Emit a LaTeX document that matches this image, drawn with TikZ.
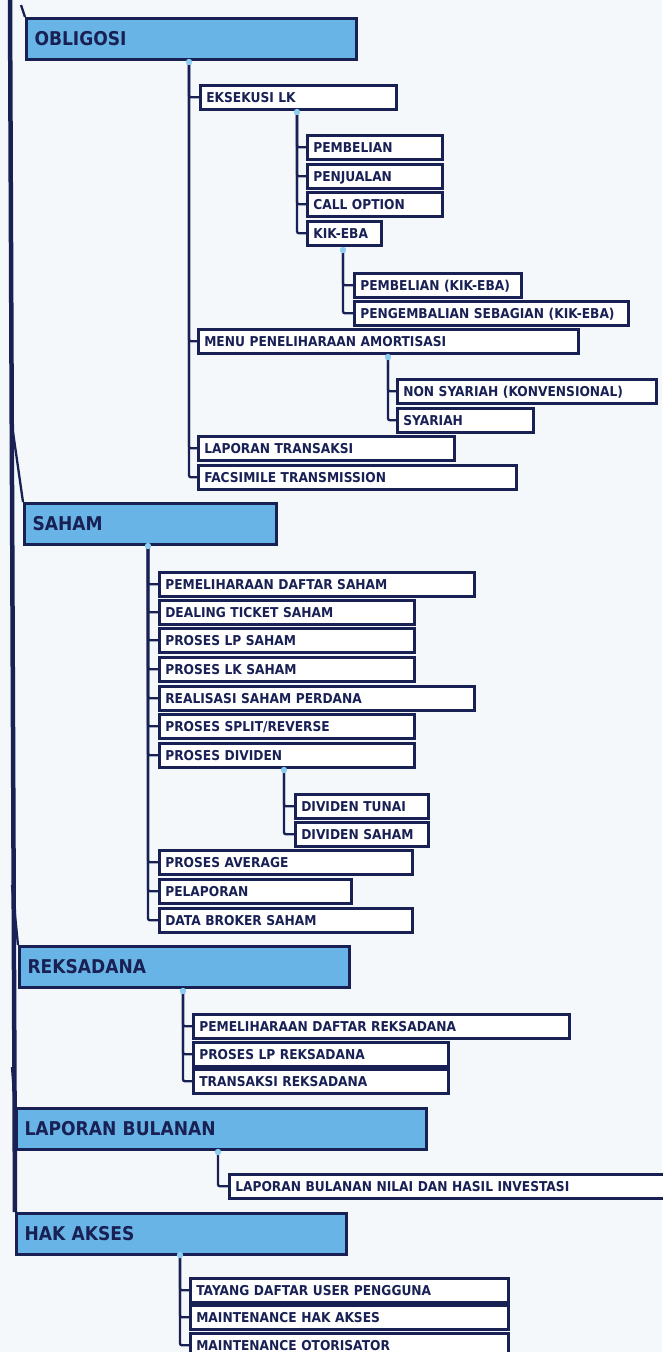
\documentclass[tikz,border=0pt]{standalone}
\usepackage{fontspec}
\setmainfont{DejaVu Sans}[FakeStretch=0.9]
\usepackage{tikz}
\usetikzlibrary{calc,positioning}
\definecolor{navy}{RGB}{24,32,84}
\definecolor{hdrblue}{RGB}{104,180,230}
\definecolor{paper}{RGB}{245,248,250}
\definecolor{dotblue}{RGB}{140,205,240}
\tikzset{%
	header/.style = {draw=navy, line width=3pt, fill=hdrblue, anchor=north west, inner xsep=8pt, inner ysep=0pt, minimum height=41pt, text height=13.8pt, text depth=0pt, font=\fontsize{19}{22}\selectfont\bfseries, text=navy, align=left, text width=#1-16pt},
	menu/.style   = {draw=navy, line width=2.6pt, fill=white, anchor=north west, inner xsep=6pt, inner ysep=0pt, minimum height=24pt, text height=9.9pt, text depth=0pt, font=\fontsize{13.6}{15}\selectfont\bfseries, text=navy, align=left, text width=#1-12pt},
	link/.style   = {navy, line width=2.3pt, rounded corners=2pt},
	trunk/.style  = {navy, line width=4.5pt},
}
\newcommand{\knob}[1]{\fill[dotblue] (#1) circle (3.2pt);}

\begin{document}
\begin{tikzpicture}[x=1pt,y=-1pt]
	\useasboundingbox[fill=paper] (0,0) rectangle (662,1352);
	
	% main groups
	\node[header=330pt] (obligosi) at (25,17) {OBLIGOSI};
	\node[header=252pt] (saham) at (23,502) {SAHAM};
	\node[header=330pt] (reksadana) at (18,945) {REKSADANA};
	\node[header=410pt] (bulanan) at (15,1107) {LAPORAN BULANAN};
	\node[header=330pt] (hakakses) at (15,1212) {HAK AKSES};
	
	\coordinate (root) at (10,0);
	\draw[trunk] (root) -- (hakakses.north west);
	\draw[link] ($(obligosi.north west)+(-4,-12)$) -- (obligosi.north west);
	\draw[link] ($(saham.north west)+(-10,-70)$) -- (saham.north west);
	\draw[link] ($(reksadana.north west)+(-6,-60)$) -- (reksadana.north west);
	\draw[link] ($(bulanan.north west)+(-3,-40)$) -- (bulanan.north west);
	
	% obligosi
	\node[menu=196pt] (ekslk) at (199,84) {EKSEKUSI LK};
	\node[menu=135pt] (pemb) at (306,134) {PEMBELIAN};
	\node[menu=135pt] (penj) at (306,163) {PENJUALAN};
	\node[menu=135pt] (callopt) at (306,191) {CALL OPTION};
	\node[menu=74pt] (kikeba) at (306,220) {KIK-EBA};
	\node[menu=167pt] (pembkik) at (353,272) {PEMBELIAN (KIK-EBA)};
	\node[menu=274pt] (pengkik) at (353,300) {PENGEMBALIAN SEBAGIAN (KIK-EBA)};
	\node[menu=380pt] (amort) at (197,328) {MENU PENELIHARAAN AMORTISASI};
	\node[menu=259pt] (nonsy) at (396,378) {NON SYARIAH (KONVENSIONAL)};
	\node[menu=136pt] (syariah) at (396,407) {SYARIAH};
	\node[menu=256pt] (laptrans) at (197,435) {LAPORAN TRANSAKSI};
	\node[menu=318pt] (facs) at (197,464) {FACSIMILE TRANSMISSION};
	
	\coordinate (k1) at (189,62);
	\foreach \c in {ekslk,amort,laptrans,facs} \draw[link] (k1) |- (\c.west);
	\coordinate (k2) at (297,112);
	\foreach \c in {pemb,penj,callopt,kikeba} \draw[link] (k2) |- (\c.west);
	\coordinate (k3) at (343,250);
	\foreach \c in {pembkik,pengkik} \draw[link] (k3) |- (\c.west);
	\coordinate (k4) at (388,357);
	\foreach \c in {nonsy,syariah} \draw[link] (k4) |- (\c.west);
	
	% saham
	\node[menu=315pt] (pds) at (158,571) {PEMELIHARAAN DAFTAR SAHAM};
	\node[menu=255pt] (dts) at (158,599) {DEALING TICKET SAHAM};
	\node[menu=255pt] (plp) at (158,627) {PROSES LP SAHAM};
	\node[menu=255pt] (plk) at (158,656) {PROSES LK SAHAM};
	\node[menu=315pt] (rsp) at (158,685) {REALISASI SAHAM PERDANA};
	\node[menu=255pt] (psr) at (158,713) {PROSES SPLIT/REVERSE};
	\node[menu=255pt] (pdiv) at (158,742) {PROSES DIVIDEN};
	\node[menu=133pt] (divt) at (294,793) {DIVIDEN TUNAI};
	\node[menu=133pt] (divs) at (294,821) {DIVIDEN SAHAM};
	\node[menu=253pt] (pavg) at (158,849) {PROSES AVERAGE};
	\node[menu=192pt] (plap) at (158,878) {PELAPORAN};
	\node[menu=253pt] (dbs) at (158,907) {DATA BROKER SAHAM};
	
	\coordinate (k5) at (148,546);
	\foreach \c in {pds,dts,plp,plk,rsp,psr,pdiv,pavg,plap,dbs} \draw[link] (k5) |- (\c.west);
	\coordinate (k6) at (284,770);
	\foreach \c in {divt,divs} \draw[link] (k6) |- (\c.west);
	
	% reksadana
	\node[menu=376pt] (pdr) at (192,1013) {PEMELIHARAAN DAFTAR REKSADANA};
	\node[menu=255pt] (plpr) at (192,1041) {PROSES LP REKSADANA};
	\node[menu=255pt] (trr) at (192,1068) {TRANSAKSI REKSADANA};
	
	\coordinate (k7) at (183,991);
	\foreach \c in {pdr,plpr,trr} \draw[link] (k7) |- (\c.west);
	
	% laporan bulanan
	\node[menu=440pt] (lbn) at (228,1173) {LAPORAN BULANAN NILAI DAN HASIL INVESTASI};
	\coordinate (k8) at (218,1152);
	\draw[link] (k8) |- (lbn.west);
	
	% hak akses
	\node[menu=318pt] (tdu) at (189,1277) {TAYANG DAFTAR USER PENGGUNA};
	\node[menu=318pt] (mha) at (189,1304) {MAINTENANCE HAK AKSES};
	\node[menu=318pt] (mot) at (189,1332) {MAINTENANCE OTORISATOR};
	
	\coordinate (k9) at (180,1255);
	\foreach \c in {tdu,mha,mot} \draw[link] (k9) |- (\c.west);
	
	\foreach \k in {k1,k2,k3,k4,k5,k6,k7,k8,k9} {\knob{\k}}
\end{tikzpicture}
\end{document}
